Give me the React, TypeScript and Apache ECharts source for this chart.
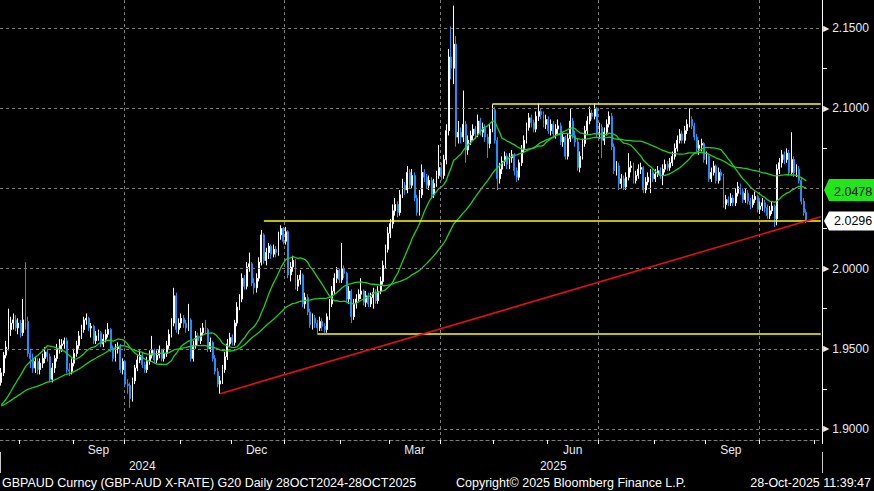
import React, { useEffect, useRef } from "react";
import * as echarts from "echarts";

// ---------- data ----------
const startDate = "2024-07-22"; // first trading day shown
const slotCount = 338; // trading-day slots on the axis (data + right padding)
const firstOpen = 1.929;

const closes = [
  1.935,1.946,1.951,1.962,1.966,1.968,1.963,1.966,1.960,1.968,
  1.967,1.947,1.944,1.938,1.942,1.937,1.941,1.944,1.948,1.945,
  1.931,1.938,1.944,1.950,1.952,1.953,1.955,1.937,1.936,1.941,
  1.947,1.952,1.958,1.962,1.968,1.969,1.963,1.964,1.955,1.958,
  1.960,1.953,1.956,1.959,1.962,1.950,1.944,1.950,1.951,1.937,
  1.942,1.928,1.927,1.919,1.930,1.938,1.943,1.946,1.940,1.937,
  1.942,1.946,1.949,1.943,1.946,1.949,1.944,1.947,1.952,1.959,
  1.966,1.983,1.962,1.966,1.969,1.966,1.963,1.968,1.944,1.952,
  1.958,1.955,1.960,1.963,1.962,1.950,1.954,1.944,1.936,1.928,
  1.930,1.937,1.945,1.953,1.957,1.954,1.966,1.976,1.981,1.994,
  1.989,2.001,2.003,1.991,1.988,1.994,2.004,2.021,2.005,2.010,
  2.014,2.009,2.012,2.010,2.021,2.025,2.017,2.023,1.996,2.001,
  2.005,1.989,1.993,1.996,1.978,1.982,1.973,1.965,1.969,1.966,
  1.963,1.967,1.964,1.962,1.970,1.978,1.986,1.994,1.999,1.993,
  2.000,1.997,1.981,1.986,1.970,1.978,1.981,1.984,1.986,1.979,
  1.983,1.978,1.982,1.985,1.980,1.986,1.992,2.002,2.012,2.022,
  2.028,2.036,2.040,2.035,2.046,2.052,2.049,2.060,2.052,2.058,
  2.044,2.035,2.046,2.060,2.057,2.052,2.055,2.046,2.053,2.058,
  2.063,2.058,2.068,2.086,2.132,2.125,2.140,2.082,2.085,2.082,
  2.090,2.074,2.080,2.083,2.087,2.084,2.092,2.085,2.088,2.082,
  2.078,2.087,2.099,2.080,2.056,2.062,2.067,2.070,2.065,2.069,
  2.071,2.061,2.057,2.066,2.074,2.080,2.088,2.094,2.091,2.087,
  2.095,2.098,2.096,2.090,2.093,2.086,2.090,2.084,2.087,2.089,
  2.079,2.082,2.070,2.081,2.092,2.083,2.079,2.063,2.070,2.078,
  2.086,2.092,2.097,2.095,2.100,2.084,2.088,2.080,2.085,2.090,
  2.095,2.076,2.061,2.064,2.053,2.056,2.051,2.057,2.063,2.064,
  2.055,2.058,2.062,2.063,2.049,2.054,2.057,2.060,2.056,2.059,
  2.061,2.058,2.062,2.065,2.063,2.066,2.070,2.075,2.080,2.084,
  2.080,2.086,2.090,2.093,2.089,2.082,2.075,2.077,2.078,2.068,
  2.070,2.056,2.060,2.064,2.055,2.060,2.058,2.040,2.043,2.041,
  2.044,2.041,2.047,2.051,2.048,2.043,2.047,2.042,2.040,2.043,
  2.045,2.037,2.039,2.041,2.038,2.033,2.036,2.039,2.031,2.062,
  2.066,2.071,2.068,2.072,2.060,2.068,2.060,2.062,2.055,2.042,
  2.035,2.0296,
];

const highs = [
  1.938,1.948,1.955,1.975,1.970,1.972,1.971,1.969,1.968,1.981,
  2.004,1.970,1.950,1.947,1.945,1.944,1.944,1.947,1.951,1.950,
  1.947,1.941,1.946,1.953,1.956,1.956,1.957,1.957,1.941,1.944,
  1.950,1.955,1.961,1.965,1.970,1.972,1.970,1.966,1.965,1.961,
  1.962,1.961,1.959,1.962,1.966,1.963,1.952,1.953,1.954,1.953,
  1.944,1.943,1.931,1.929,1.932,1.940,1.946,1.949,1.948,1.942,
  1.945,1.949,1.958,1.950,1.949,1.952,1.950,1.950,1.955,1.962,
  1.969,1.988,1.985,1.969,1.972,1.971,1.968,1.978,1.969,1.955,
  1.961,1.960,1.963,1.966,1.968,1.963,1.957,1.955,1.946,1.938,
  1.933,1.940,1.948,1.956,1.960,1.959,1.968,1.979,1.984,1.997,
  1.996,2.004,2.010,2.004,1.994,1.997,2.007,2.024,2.022,2.013,
  2.016,2.015,2.015,2.014,2.023,2.027,2.026,2.026,2.024,2.004,
  2.008,2.006,1.996,1.999,1.997,1.985,1.984,1.975,1.972,1.971,
  1.968,1.970,1.969,1.966,1.972,1.981,1.989,1.997,2.001,2.000,
  2.016,2.002,1.998,1.989,1.987,1.981,1.984,1.987,1.994,1.987,
  1.986,1.985,1.985,1.988,1.987,1.989,1.995,2.005,2.015,2.026,
  2.031,2.040,2.044,2.042,2.049,2.056,2.054,2.064,2.062,2.062,
  2.060,2.046,2.049,2.065,2.062,2.059,2.058,2.057,2.056,2.061,
  2.077,2.066,2.071,2.090,2.137,2.151,2.164,2.145,2.092,2.088,
  2.111,2.092,2.083,2.086,2.090,2.089,2.096,2.094,2.091,2.090,
  2.084,2.090,2.1025,2.101,2.082,2.066,2.070,2.073,2.072,2.072,
  2.074,2.072,2.063,2.068,2.077,2.083,2.091,2.097,2.096,2.093,
  2.098,2.103,2.100,2.098,2.096,2.095,2.093,2.092,2.090,2.093,
  2.091,2.085,2.083,2.084,2.100,2.094,2.086,2.081,2.073,2.081,
  2.089,2.095,2.101,2.099,2.103,2.101,2.091,2.090,2.088,2.093,
  2.098,2.097,2.078,2.067,2.066,2.059,2.058,2.060,2.072,2.067,
  2.066,2.061,2.065,2.066,2.064,2.057,2.060,2.062,2.062,2.062,
  2.064,2.063,2.065,2.068,2.067,2.069,2.073,2.078,2.083,2.087,
  2.086,2.089,2.093,2.100,2.095,2.091,2.084,2.080,2.081,2.079,
  2.073,2.071,2.063,2.067,2.065,2.063,2.062,2.059,2.046,2.045,
  2.047,2.046,2.050,2.054,2.053,2.050,2.050,2.049,2.044,2.046,
  2.048,2.046,2.042,2.044,2.043,2.040,2.039,2.042,2.040,2.065,
  2.069,2.074,2.073,2.075,2.074,2.085,2.070,2.065,2.064,2.057,
  2.044,2.037,
];

const lows = [
  1.927,1.933,1.944,1.949,1.958,1.962,1.961,1.959,1.957,1.958,
  1.962,1.945,1.938,1.935,1.935,1.934,1.934,1.938,1.941,1.942,
  1.929,1.929,1.935,1.942,1.947,1.948,1.950,1.935,1.933,1.934,
  1.939,1.945,1.950,1.956,1.960,1.965,1.961,1.957,1.953,1.953,
  1.955,1.951,1.951,1.954,1.957,1.948,1.942,1.942,1.947,1.935,
  1.934,1.926,1.922,1.913,1.917,1.928,1.936,1.941,1.938,1.935,
  1.935,1.940,1.944,1.941,1.941,1.944,1.942,1.942,1.945,1.950,
  1.957,1.964,1.960,1.959,1.963,1.963,1.960,1.961,1.942,1.942,
  1.950,1.952,1.953,1.958,1.959,1.948,1.948,1.942,1.934,1.926,
  1.922,1.928,1.935,1.943,1.951,1.952,1.952,1.964,1.974,1.979,
  1.987,1.987,1.998,1.989,1.984,1.985,1.992,2.002,2.003,2.002,
  2.006,2.006,2.007,2.007,2.008,2.018,2.015,2.015,1.994,1.992,
  1.998,1.987,1.986,1.990,1.976,1.975,1.971,1.963,1.962,1.963,
  1.9596,1.961,1.961,1.960,1.960,1.968,1.976,1.984,1.991,1.991,
  1.991,1.994,1.979,1.978,1.966,1.968,1.975,1.979,1.981,1.977,
  1.976,1.976,1.976,1.975,1.978,1.978,1.984,1.990,2.000,2.010,
  2.019,2.025,2.033,2.032,2.033,2.044,2.046,2.047,2.050,2.050,
  2.042,2.033,2.033,2.044,2.054,2.050,2.049,2.044,2.044,2.051,
  2.056,2.055,2.056,2.065,2.083,2.118,2.115,2.076,2.078,2.078,
  2.079,2.066,2.071,2.077,2.080,2.081,2.082,2.083,2.082,2.079,
  2.069,2.075,2.085,2.078,2.049,2.053,2.059,2.064,2.062,2.062,
  2.066,2.058,2.054,2.055,2.064,2.072,2.078,2.086,2.088,2.085,
  2.085,2.092,2.093,2.088,2.087,2.084,2.083,2.082,2.081,2.084,
  2.077,2.076,2.068,2.068,2.079,2.081,2.076,2.061,2.060,2.068,
  2.076,2.084,2.090,2.093,2.093,2.082,2.081,2.069,2.077,2.083,
  2.088,2.074,2.059,2.058,2.049,2.050,2.049,2.049,2.055,2.060,
  2.053,2.053,2.056,2.059,2.047,2.047,2.052,2.047,2.054,2.054,
  2.057,2.056,2.052,2.060,2.061,2.061,2.064,2.068,2.073,2.078,
  2.078,2.078,2.084,2.088,2.087,2.080,2.073,2.071,2.073,2.066,
  2.065,2.054,2.054,2.058,2.053,2.053,2.055,2.038,2.037,2.039,
  2.039,2.039,2.039,2.045,2.046,2.041,2.041,2.040,2.037,2.038,
  2.041,2.035,2.034,2.036,2.035,2.031,2.031,2.034,2.026,2.027,
  2.059,2.063,2.065,2.066,2.058,2.058,2.057,2.057,2.053,2.040,
  2.033,2.0285,
];

const maPeriods = [20, 50];
const maSeed = 1.914; // level of the averages where the chart begins

const yMin = 1.8931;
const yMax = 2.1675;
const yGridValues = [1.9, 1.95, 2.0, 2.05, 2.1, 2.15];
const yLabelValues = [1.9, 1.95, 2.0, 2.1, 2.15]; // 2.05 is hidden under the MA tag
const yMinorTickValues = [1.925, 1.975, 2.025, 2.075, 2.125];

const levelLines = [
  { from: "2025-04-30", value: 2.1025 },
  { from: "2024-12-19", value: 2.0296 },
  { from: "2025-01-20", value: 1.9596 },
];
const trendStart = { date: "2024-11-25", value: 1.922 };
const trendEndValue = 2.0323;

const lastPriceTag = { value: 2.0296, text: "2.0296" };
const maTag = { value: 2.0478, text: "2.0478" };

const footerLeft = "GBPAUD Curncy (GBP-AUD X-RATE) G20 Daily 28OCT2024-28OCT2025";
const footerMid = "Copyright\u00A9 2025 Bloomberg Finance L.P.";
const footerRight = "28-Oct-2025 11:39:47";
const monthNames = ["Jan","Feb","Mar","Apr","May","Jun","Jul","Aug","Sep","Oct","Nov","Dec"];
const labelMonths = [3, 6, 9, 12];

// ---------- derived ----------
function buildTradingDays(start: string, n: number): string[] {
  const out: string[] = [];
  const d = new Date(start + "T00:00:00Z");
  while (out.length < n) {
    const wd = d.getUTCDay();
    if (wd !== 0 && wd !== 6) out.push(d.toISOString().slice(0, 10));
    d.setUTCDate(d.getUTCDate() + 1);
  }
  return out;
}
const dates = buildTradingDays(startDate, slotCount);
const lastDate = dates[dates.length - 1];

const candleData = closes.map((c, i) => [i === 0 ? firstOpen : closes[i - 1], c, lows[i], highs[i]]);

function sma(values: number[], n: number, seed: number) {
  return values.map((_, i) => {
    let s = 0;
    for (let k = i - n + 1; k <= i; k++) s += k < 0 ? seed : values[k];
    return +(s / n).toFixed(5);
  });
}
const maSeries = maPeriods.map((p) => sma(closes, p, maSeed));

const mon = (i: number) => dates[i].slice(5, 7);
const day = (i: number) => +dates[i].slice(8, 10);
const isMonthStart = (i: number) => i > 0 && mon(i) !== mon(i - 1);
const isQuarterStart = (i: number) => isMonthStart(i) && ["01", "04", "07", "10"].includes(mon(i));
const isMonthLabel = (i: number) =>
  labelMonths.includes(+mon(i)) && day(i) >= 15 && (i === 0 || mon(i - 1) !== mon(i) || day(i - 1) < 15);
const isYearStart = (i: number) => i > 0 && dates[i].slice(0, 4) !== dates[i - 1].slice(0, 4);
const yearMids: number[] = (() => {
  const res: number[] = [];
  let first = 0;
  for (let i = 1; i <= dates.length; i++) {
    if (i === dates.length || isYearStart(i)) {
      res.push(Math.floor((first + i - 1) / 2));
      first = i;
    }
  }
  return res;
})();

const FONT = "Liberation Sans";
const LABEL_COLOR = "#e4ebf5";

export default function App() {
  const ref = useRef<HTMLDivElement>(null);
  useEffect(() => {
    document.body.style.margin = "0";
    if (!ref.current) return;
    const chart = echarts.init(ref.current, null, { renderer: "svg" });
    const gridLineStyle = { color: "#7c7c7c", type: [3, 3] as any, width: 1 };
    chart.setOption({
      animation: false,
      backgroundColor: "#000000",
      textStyle: { fontFamily: FONT },
      grid: { left: 0, right: 52, top: 0, bottom: 51, containLabel: false },
      xAxis: [
        {
          type: "category",
          data: dates,
          boundaryGap: true,
          axisLine: { show: true, lineStyle: gridLineStyle },
          axisTick: { show: true, length: 4, interval: (i: number) => isMonthStart(i), lineStyle: { color: "#ffffff" } },
          axisLabel: {
            show: true,
            interval: (i: number) => isMonthLabel(i),
            formatter: (v: string) => monthNames[+v.slice(5, 7) - 1],
            color: LABEL_COLOR,
            fontSize: 12,
            fontFamily: FONT,
            margin: 4,
          },
          splitLine: { show: true, interval: (i: number) => isQuarterStart(i), lineStyle: gridLineStyle },
        },
        {
          type: "category",
          data: dates,
          position: "bottom",
          offset: 12,
          boundaryGap: true,
          axisLine: { show: false },
          axisTick: { show: true, length: 21, interval: (i: number) => isYearStart(i), lineStyle: { color: "#c8c8c8" } },
          axisLabel: {
            show: true,
            interval: (i: number) => yearMids.includes(i),
            formatter: (v: string) => v.slice(0, 4),
            color: LABEL_COLOR,
            fontSize: 12,
            fontFamily: FONT,
            margin: 8,
          },
          splitLine: { show: false },
        },
      ],
      yAxis: {
        type: "value",
        position: "right",
        min: yMin,
        max: yMax,
        scale: true,
        axisLine: { show: true, lineStyle: { color: "#ffffff", width: 1 } },
        axisTick: { show: true, customValues: yMinorTickValues, length: 5, lineStyle: { color: "#ffffff" } },
        axisLabel: {
          show: true,
          customValues: yLabelValues,
          margin: 1,
          formatter: (v: number) => `{t|\u25B6}{v|${v.toFixed(4)}}`,
          rich: {
            t: { fontSize: 8, color: LABEL_COLOR, padding: [0, 3, 0, 0], fontFamily: "DejaVu Sans" },
            v: { fontSize: 12, color: LABEL_COLOR, fontFamily: FONT },
          },
        },
        splitLine: { show: false },
      },
      series: [
        {
          type: "line",
          data: [],
          z: 1,
          silent: true,
          markLine: {
            silent: true,
            symbol: ["none", "none"],
            label: { show: false },
            lineStyle: gridLineStyle,
            data: yGridValues.map((v) => ({ yAxis: v })),
          },
        },
        {
          type: "candlestick",
          data: candleData,
          z: 2,
          barWidth: 1.4,
          itemStyle: {
            color: "#ffffff",
            color0: "#1f8fff",
            borderColor: "#ffffff",
            borderColor0: "#1f8fff",
            borderWidth: 1,
          },
          markLine: {
            silent: true,
            symbol: ["none", "none"],
            label: { show: false },
            data: [
              ...levelLines.map((l) => [
                { coord: [l.from, l.value], lineStyle: { color: "#ffff00", width: 1.5, type: "solid" } },
                { coord: [lastDate, l.value] },
              ]),
              [
                { coord: [trendStart.date, trendStart.value], lineStyle: { color: "#e01010", width: 1.6, type: "solid" } },
                { coord: [lastDate, trendEndValue] },
              ],
            ],
          },
        },
        ...maSeries.map((d) => ({
          type: "line",
          data: d,
          z: 3,
          showSymbol: false,
          symbol: "none",
          silent: true,
          lineStyle: { color: "#1ed01e", width: 1.3 },
        })),
      ],
    });

    const yPix = (v: number) => chart.convertToPixel({ yAxisIndex: 0 }, v) as number;
    const yl = yPix(lastPriceTag.value);
    const ym = yPix(maTag.value);
    const tagFont = `12.5px "${FONT}"`;
    const footFont = `12.5px "${FONT}"`;
    chart.setOption({
      graphic: [
        {
          type: "polygon",
          z: 100,
          shape: { points: [[824, ym - 2], [829, ym - 13], [874, ym - 13], [874, ym + 9], [829, ym + 9]] },
          style: { fill: "#22e51a" },
        },
        {
          type: "text",
          z: 101,
          style: { text: maTag.text, x: 834, y: ym, verticalAlign: "middle", font: tagFont, fill: "#000000" },
        },
        {
          type: "polygon",
          z: 100,
          shape: { points: [[824, yl], [829, yl - 9.5], [874, yl - 9.5], [874, yl + 9.5], [829, yl + 9.5]] },
          style: { fill: "#ffffff" },
        },
        {
          type: "text",
          z: 101,
          style: { text: lastPriceTag.text, x: 834, y: yl, verticalAlign: "middle", font: tagFont, fill: "#000000" },
        },
        {
          type: "text",
          z: 101,
          style: { text: footerLeft, x: 2, y: 483, verticalAlign: "middle", font: footFont, fill: "#ffffff" },
        },
        {
          type: "text",
          z: 101,
          style: { text: footerMid, x: 456, y: 483, verticalAlign: "middle", font: footFont, fill: "#ffffff" },
        },
        {
          type: "text",
          z: 101,
          style: { text: footerRight, x: 871, y: 483, align: "right", verticalAlign: "middle", font: footFont, fill: "#ffffff" },
        },
      ],
    });

    return () => chart.dispose();
  }, []);
  return <div ref={ref} style={{ position: "fixed", left: 0, top: 0, width: 874, height: 491 }} />;
}
